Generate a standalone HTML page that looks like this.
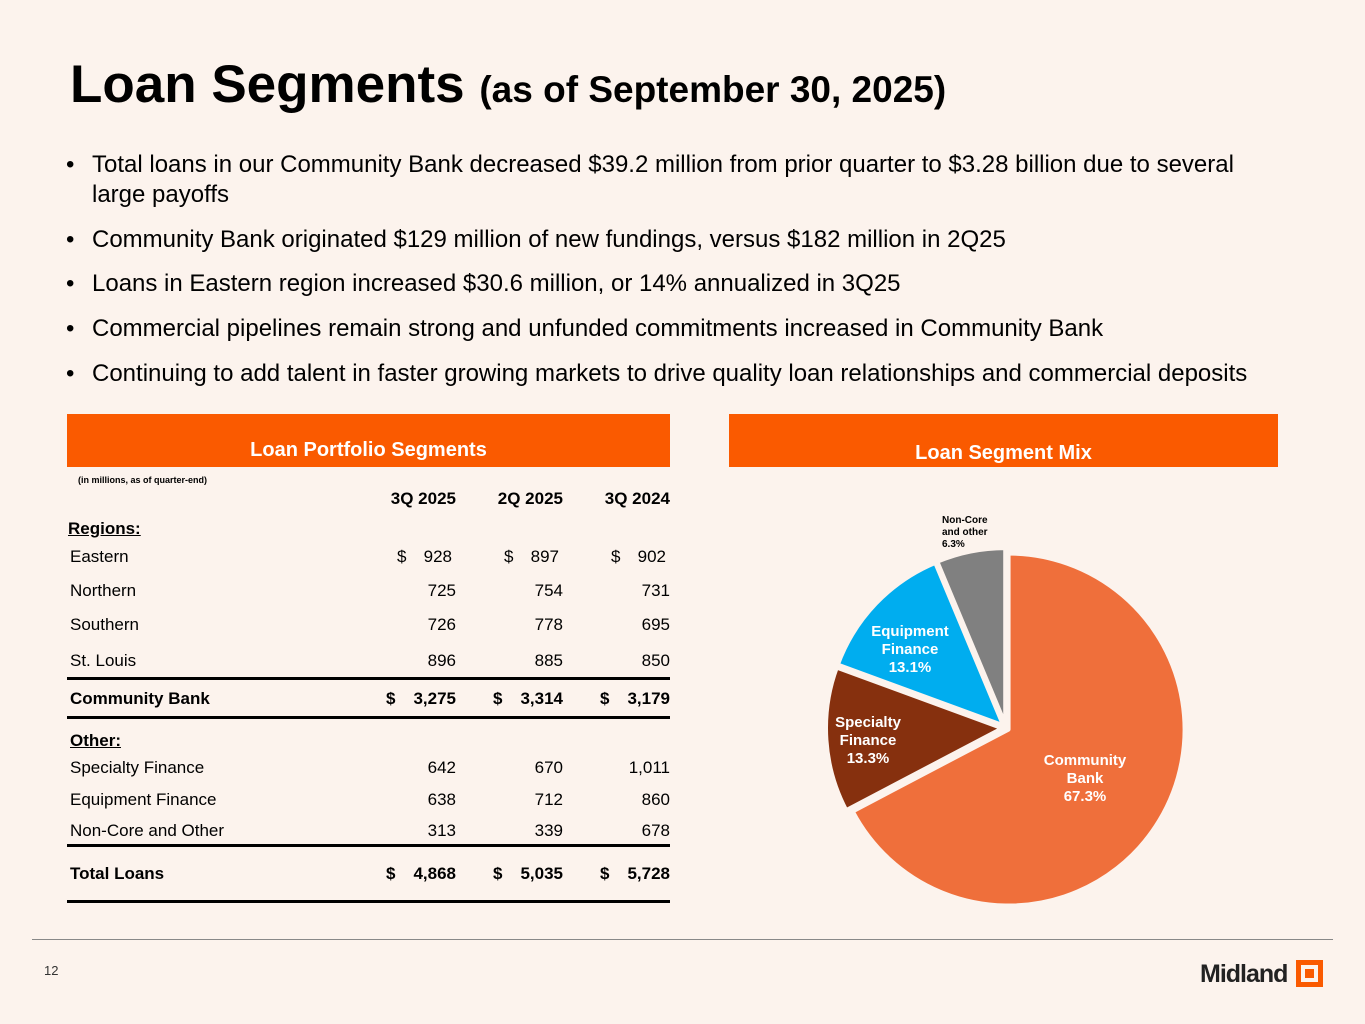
<!DOCTYPE html>
<html><head><meta charset="utf-8"><style>
body{margin:0;width:1365px;height:1024px;background:#fcf3ed;font-family:"Liberation Sans",sans-serif;position:relative;overflow:hidden;color:#000}
.a{position:absolute;white-space:nowrap}
.b{font-size:24px;line-height:30px}
.t{font-size:17px}
.bold{font-weight:bold}
.hdr{position:absolute;background:#fa5a00;color:#fff;font-weight:bold;font-size:20px;text-align:center;height:53px}
.ln{position:absolute;left:67px;width:603px;background:#000}
</style></head><body>
<div class="a bold" style="left:70px;top:54px;font-size:53px">Loan Segments <span style="font-size:37px">(as of September 30, 2025)</span></div>
<div>
<div class="a b" style="left:66px;top:150px">•</div><div class="a b" style="left:92px;top:150px">Total loans in our Community Bank decreased $39.2 million from prior quarter to $3.28 billion due to several<br>large payoffs</div>
<div class="a b" style="left:66px;top:225px">•</div><div class="a b" style="left:92px;top:225px">Community Bank originated $129 million of new fundings, versus $182 million in 2Q25</div>
<div class="a b" style="left:66px;top:269px">•</div><div class="a b" style="left:92px;top:269px">Loans in Eastern region increased $30.6 million, or 14% annualized in 3Q25</div>
<div class="a b" style="left:66px;top:314px">•</div><div class="a b" style="left:92px;top:314px">Commercial pipelines remain strong and unfunded commitments increased in Community Bank</div>
<div class="a b" style="left:66px;top:359px">•</div><div class="a b" style="left:92px;top:359px">Continuing to add talent in faster growing markets to drive quality loan relationships and commercial deposits</div>
</div>
<div class="hdr" style="left:67px;top:414px;width:603px;line-height:72px">Loan Portfolio Segments</div>
<div class="hdr" style="left:729px;top:414px;width:549px;line-height:78px">Loan Segment Mix</div>
<div class="a bold" style="left:78px;top:475px;font-size:9px">(in millions, as of quarter-end)</div>
<div id="tbl"></div>
<div class="ln" style="top:677px;height:3px"></div>
<div class="ln" style="top:716px;height:3px"></div>
<div class="ln" style="top:844px;height:3px"></div>
<div class="ln" style="top:900px;height:3px"></div>
<svg id="pie" class="a" style="left:0;top:0" width="1365" height="1024"></svg>
<div class="a" style="left:32px;top:939px;width:1301px;height:1px;background:#888"></div>
<div class="a" style="left:44px;top:963px;font-size:13px;color:#333">12</div>
<div class="a bold" style="left:1200px;top:960px;font-size:25px;color:#222;letter-spacing:-1px">Midland</div>
<div class="a" style="left:1296px;top:960px;width:17px;height:17px;border:5px solid #fa5a00"><div style="position:absolute;left:4px;top:4px;width:9px;height:9px;background:#fa5a00"></div></div>
<script>
const rowLabels=["Eastern","Northern","Southern","St. Louis","Community Bank","Specialty Finance","Equipment Finance","Non-Core and Other","Total Loans"];
const q3_2025=[928,725,726,896,3275,642,638,313,4868];
const q2_2025=[897,754,778,885,3314,670,712,339,5035];
const q3_2024=[902,731,695,850,3179,1011,860,678,5728];
const pieLabels=[["Community","Bank"],["Specialty","Finance"],["Equipment","Finance"],["Non-Core","and other"]];
const pieValues=[67.3,13.3,13.1,6.3];
const tbl=document.getElementById('tbl');
function add(txt,x,y,cls,right){const d=document.createElement('div');d.className='a t '+(cls||'');d.textContent=txt;d.style.top=y+'px';if(right){d.style.right=(1365-x)+'px';}else d.style.left=x+'px';tbl.appendChild(d);return d;}
[["3Q 2025",456],["2Q 2025",563],["3Q 2024",670]].forEach(h=>add(h[0],h[1],489,'bold',true));
let u=add("Regions:",68,519,'bold');u.style.textDecoration='underline';
u=add("Other:",70,731,'bold');u.style.textDecoration='underline';
const ys=[547,581,615,651,689,758,790,821,864];
const fmt=v=>v.toLocaleString('en-US');
rowLabels.forEach((l,i)=>{const bold=(i==4||i==8);add(l,70,ys[i],bold?'bold':'');
 const cols=[[q3_2025,456],[q2_2025,563],[q3_2024,670]];
 cols.forEach((c,j)=>{add(fmt(c[0][i]),c[1]-(i==0?4:0),ys[i],bold?'bold':'',true);
  if(i==0)add('$',c[1]-59,ys[i],'');if(bold)add('$',c[1]-70,ys[i],'bold');});
});
const svg=document.getElementById('pie');const NS='http://www.w3.org/2000/svg';
const cx=1006,cy=728,R=176,colors=["#ef6f3b","#86300e","#00adef","#808080"];
const total=pieValues.reduce((a,b)=>a+b,0);let a0=0;
const lab=[[1085,765,15,'#fff'],[868,727,15,'#fff'],[910,636,15,'#fff'],[966,523,10,'#000']];
pieValues.forEach((v,i)=>{const a1=a0+v/total*2*Math.PI;
 const mid=(a0+a1)/2,off=i==0?3:4;const ox=cx+off*Math.sin(mid),oy=cy-off*Math.cos(mid);
 const p=(a)=>[ox+R*Math.sin(a),oy-R*Math.cos(a)];const s=p(a0),e=p(a1);
 const path=document.createElementNS(NS,'path');
 path.setAttribute('d',`M${ox},${oy}L${s[0]},${s[1]}A${R},${R} 0 ${a1-a0>Math.PI?1:0} 1 ${e[0]},${e[1]}Z`);
 path.setAttribute('fill',colors[i]);path.setAttribute('stroke','#fcf3ed');path.setAttribute('stroke-width','4');path.setAttribute('stroke-linejoin','round');
 
 
 svg.appendChild(path);a0=a1;});
pieValues.forEach((v,i)=>{const L=lab[i];const lines=[...pieLabels[i],v.toFixed(1)+'%'];
 lines.forEach((t,k)=>{const tx=document.createElementNS(NS,'text');tx.textContent=t;
  tx.setAttribute('x',i==3?942:L[0]);tx.setAttribute('y',L[1]+k*L[2]*1.2);tx.setAttribute('fill',L[3]);
  tx.setAttribute('font-size',i==3?10:15);tx.setAttribute('font-weight','bold');tx.setAttribute('text-anchor',i==3?'start':'middle');
  tx.setAttribute('font-family','Liberation Sans, sans-serif');
  
  
  svg.appendChild(tx);});});
</script>
</body></html>
